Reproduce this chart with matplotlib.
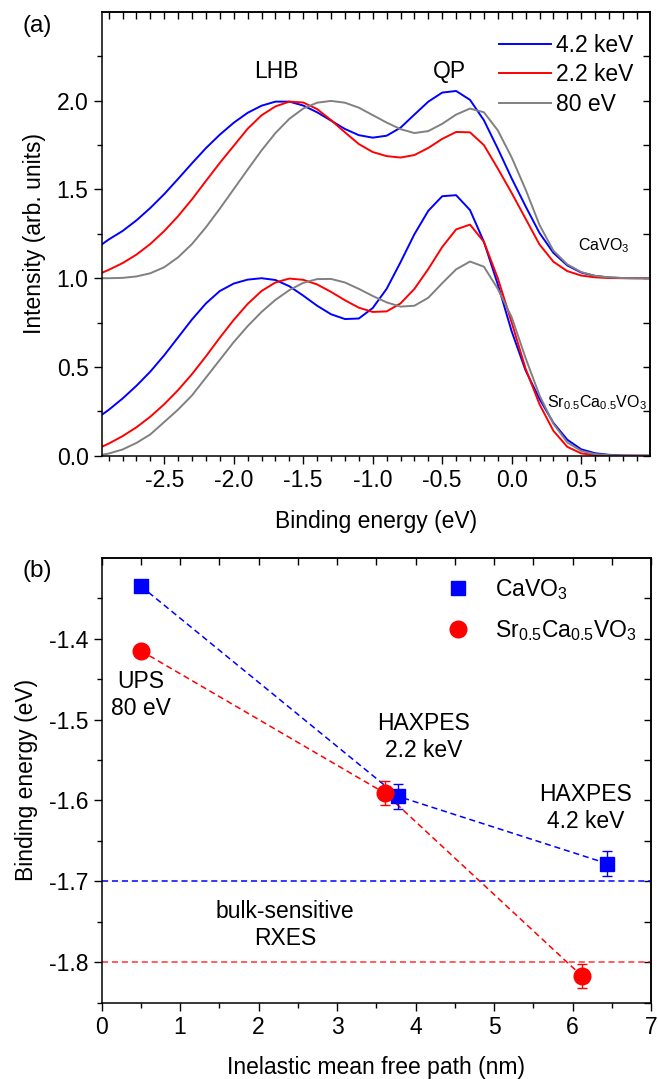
import matplotlib
matplotlib.use("Agg")
import matplotlib.pyplot as plt
from matplotlib.ticker import MultipleLocator, FixedLocator, NullFormatter

plt.rcParams['font.family'] = ['Liberation Sans', 'DejaVu Sans']
plt.rcParams['mathtext.fontset'] = 'custom'
plt.rcParams['mathtext.rm'] = 'Liberation Sans'
plt.rcParams['mathtext.it'] = 'Liberation Sans:italic'
plt.rcParams['mathtext.bf'] = 'Liberation Sans:bold'
plt.rcParams['axes.unicode_minus'] = False

# ---------------- data: panel (a) ----------------
x_be = [-2.95, -2.9, -2.8, -2.7, -2.6, -2.5, -2.4, -2.3, -2.2, -2.1, -2.0,
        -1.9, -1.8, -1.7, -1.6, -1.5, -1.4, -1.3, -1.2, -1.1, -1.0,
        -0.9, -0.8, -0.7, -0.6, -0.5, -0.4, -0.3, -0.2, -0.1, 0.0,
        0.1, 0.2, 0.3, 0.4, 0.5, 0.6, 0.7, 0.8, 0.9, 1.0]

cvo_4200 = [1.19, 1.218, 1.266, 1.326, 1.396, 1.474, 1.56, 1.648, 1.733, 1.809, 1.876,
            1.932, 1.972, 1.995, 1.995, 1.973, 1.935, 1.888, 1.841, 1.806, 1.792,
            1.803, 1.848, 1.922, 1.995, 2.046, 2.055, 2.005, 1.890, 1.730, 1.562,
            1.405, 1.255, 1.143, 1.072, 1.032, 1.013, 1.004, 1.001, 1.0, 1.0]
cvo_2200 = [1.03, 1.047, 1.085, 1.133, 1.193, 1.266, 1.350, 1.445, 1.548, 1.650, 1.746,
            1.842, 1.918, 1.968, 1.995, 1.990, 1.953, 1.891, 1.822, 1.756, 1.711,
            1.688, 1.680, 1.694, 1.734, 1.785, 1.824, 1.822, 1.750, 1.618, 1.480,
            1.335, 1.190, 1.093, 1.040, 1.015, 1.005, 1.001, 1.0, 1.0, 1.0]
cvo_80 = [1.0, 1.0, 1.002, 1.010, 1.028, 1.062, 1.118, 1.193, 1.287, 1.392, 1.502,
          1.612, 1.720, 1.818, 1.898, 1.956, 1.989, 1.999, 1.989, 1.961, 1.919,
          1.877, 1.840, 1.818, 1.829, 1.870, 1.922, 1.956, 1.935, 1.833, 1.680,
          1.500, 1.300, 1.155, 1.078, 1.035, 1.013, 1.005, 1.001, 1.0, 1.0]

scvo_4200 = [0.23, 0.258, 0.322, 0.394, 0.474, 0.566, 0.667, 0.768, 0.858, 0.928, 0.970,
             0.992, 1.0, 0.990, 0.955, 0.902, 0.845, 0.797, 0.770, 0.773, 0.832,
             0.940, 1.090, 1.248, 1.380, 1.462, 1.468, 1.384, 1.205, 0.965, 0.700,
             0.480, 0.320, 0.185, 0.090, 0.036, 0.014, 0.005, 0.001, 0.0, 0.0]
scvo_2200 = [0.05, 0.068, 0.11, 0.16, 0.22, 0.29, 0.37, 0.46, 0.56, 0.665, 0.765,
             0.855, 0.928, 0.976, 0.998, 0.991, 0.965, 0.923, 0.876, 0.834, 0.810,
             0.813, 0.858, 0.940, 1.052, 1.176, 1.275, 1.302, 1.205, 1.000, 0.750,
             0.490, 0.290, 0.140, 0.050, 0.013, 0.003, 0.0, 0.0, 0.0, 0.0]
scvo_80 = [0.005, 0.012, 0.035, 0.072, 0.12, 0.19, 0.26, 0.34, 0.44, 0.54, 0.64,
           0.73, 0.81, 0.878, 0.933, 0.974, 0.995, 0.996, 0.976, 0.940, 0.900,
           0.864, 0.840, 0.845, 0.890, 0.972, 1.050, 1.094, 1.065, 0.940, 0.780,
           0.550, 0.340, 0.180, 0.075, 0.027, 0.009, 0.003, 0.0, 0.0, 0.0]

energy_labels = ['4.2 keV', '2.2 keV', '80 eV']
xticks_a = [-2.5, -2.0, -1.5, -1.0, -0.5, 0.0, 0.5]
yticks_a = [0.0, 0.5, 1.0, 1.5, 2.0]

# ---------------- data: panel (b) ----------------
imfp_cvo = [0.5, 3.78, 6.44]
be_cvo = [-1.335, -1.595, -1.678]
err_cvo = [0.0, 0.015, 0.015]
imfp_scvo = [0.5, 3.61, 6.12]
be_scvo = [-1.415, -1.591, -1.817]
err_scvo = [0.0, 0.015, 0.015]
rxes_cvo = -1.70
rxes_scvo = -1.80
yticks_b = [-1.4, -1.5, -1.6, -1.7, -1.8]

BLUE = '#0000ff'
RED = '#ff0000'
GRAY = '#808080'
FS = 16.5

fig = plt.figure(figsize=(6.58, 10.79), dpi=100)
W, H = 658.0, 1079.0
ax1 = fig.add_axes([101.7 / W, 1 - 455.7 / H, (650 - 101.7) / W, (455.7 - 12) / H])
ax2 = fig.add_axes([101.5 / W, 1 - 1002.7 / H, (651 - 101.5) / W, (1002.7 - 557.7) / H])


def style_axes(ax, xmaj, xmin, ymaj, ymin, maj_len=6, min_len=3.5):
    for s in ax.spines.values():
        s.set_linewidth(1.1)
    ax.xaxis.set_major_locator(xmaj)
    ax.xaxis.set_minor_locator(xmin)
    ax.yaxis.set_major_locator(ymaj)
    ax.yaxis.set_minor_locator(ymin)
    ax.tick_params(which='both', direction='out', width=1.0, labelsize=FS,
                   top=False, right=False)
    ax.tick_params(which='major', length=maj_len)
    ax.tick_params(which='minor', length=min_len)
    secx = ax.secondary_xaxis('top')
    secx.xaxis.set_major_locator(xmaj)
    secx.xaxis.set_minor_locator(xmin)
    secx.xaxis.set_major_formatter(NullFormatter())
    secx.tick_params(which='both', direction='in', width=1.0, length=5)
    secx.spines['top'].set_linewidth(1.1)
    secy = ax.secondary_yaxis('right')
    secy.yaxis.set_major_locator(ymaj)
    secy.yaxis.set_minor_locator(ymin)
    secy.yaxis.set_major_formatter(NullFormatter())
    secy.tick_params(which='both', direction='in', width=1.0, length=5)
    secy.spines['right'].set_linewidth(1.1)


# ---------------- panel (a) ----------------
lw = 1.4
ax1.plot(x_be, cvo_4200, color=BLUE, lw=lw, label=energy_labels[0])
ax1.plot(x_be, cvo_2200, color=RED, lw=lw, label=energy_labels[1])
ax1.plot(x_be, cvo_80, color=GRAY, lw=lw, label=energy_labels[2])
ax1.plot(x_be, scvo_4200, color=BLUE, lw=lw)
ax1.plot(x_be, scvo_2200, color=RED, lw=lw)
ax1.plot(x_be, scvo_80, color=GRAY, lw=lw)
ax1.set_xlim(-2.95, 0.995)
ax1.set_ylim(0.0, 2.5)
minor_x_a = [round(-2.9 + 0.1 * i, 1) for i in range(39)]
style_axes(ax1, FixedLocator(xticks_a), FixedLocator(minor_x_a),
           FixedLocator(yticks_a), FixedLocator([0.25, 0.75, 1.25, 1.75, 2.25]))
ax1.set_xticklabels(['%.1f' % v for v in xticks_a])
ax1.set_yticklabels(['%.1f' % v for v in yticks_a])
ax1.set_xlabel('Binding energy (eV)', fontsize=FS, labelpad=13)
ax1.set_ylabel('Intensity (arb. units)', fontsize=FS, labelpad=8)
ax1.text(-1.69, 2.165, 'LHB', fontsize=FS, ha='center', va='center')
ax1.text(-0.45, 2.165, 'QP', fontsize=FS, ha='center', va='center')
ax1.text(0.48, 1.156, r'CaVO$_3$', fontsize=11.5, ha='left', va='baseline')
ax1.text(0.254, 0.275, r'Sr$_{0.5}$Ca$_{0.5}$VO$_3$', fontsize=11.5, ha='left', va='baseline')
ax1.legend(loc='upper left', bbox_to_anchor=(0.7246, 0.950), frameon=False,
           fontsize=FS, handlelength=2.25, handletextpad=0.25, labelspacing=0.27,
           borderpad=0, borderaxespad=0)
fig.text(37.5 / W, 1 - 26 / H, '(a)', fontsize=17.5, ha='center', va='center')

# ---------------- panel (b) ----------------
dash = (0, (4, 2.5))
ax2.axhline(rxes_cvo, color=BLUE, lw=1.1, ls=dash)
ax2.axhline(rxes_scvo, color=RED, lw=1.1, ls=dash, alpha=0.8)
ax2.plot(imfp_cvo, be_cvo, color=BLUE, lw=1.1, ls=dash)
ax2.plot(imfp_scvo, be_scvo, color=RED, lw=1.1, ls=dash)
ax2.errorbar(imfp_cvo, be_cvo, yerr=err_cvo, fmt='none', ecolor=BLUE,
             elinewidth=1.0, capsize=3.6, capthick=1.0)
ax2.errorbar(imfp_scvo, be_scvo, yerr=err_scvo, fmt='none', ecolor=RED,
             elinewidth=1.0, capsize=3.6, capthick=1.0)
ax2.plot(imfp_cvo, be_cvo, ls='none', marker='s', ms=10.5, color=BLUE,
         mec=BLUE, label=r'CaVO$_3$')
ax2.plot(imfp_scvo, be_scvo, ls='none', marker='o', ms=12, color=RED,
         mec=RED, label=r'Sr$_{0.5}$Ca$_{0.5}$VO$_3$')
ax2.set_xlim(0, 7)
ax2.set_ylim(-1.85, -1.30)
style_axes(ax2, MultipleLocator(1), MultipleLocator(0.5),
           FixedLocator(yticks_b), FixedLocator([-1.35, -1.45, -1.55, -1.65, -1.75, -1.85]),
           maj_len=6, min_len=3.5)
ax2.set_yticklabels(['%.1f' % v for v in yticks_b])
ax2.set_xlabel('Inelastic mean free path (nm)', fontsize=FS, labelpad=12)
ax2.set_ylabel('Binding energy (eV)', fontsize=FS, labelpad=8)
ax2.text(0.5, -1.47, 'UPS\n80 eV', fontsize=FS, ha='center', va='center', linespacing=1.2)
ax2.text(4.10, -1.5215, 'HAXPES\n2.2 keV', fontsize=FS, ha='center', va='center', linespacing=1.2)
ax2.text(6.17, -1.609, 'HAXPES\n4.2 keV', fontsize=FS, ha='center', va='center', linespacing=1.2)
ax2.text(2.34, -1.7536, 'bulk-sensitive\nRXES', fontsize=FS, ha='center', va='center', linespacing=1.2)
ax2.legend(loc='upper left', bbox_to_anchor=(0.628, 0.957), frameon=False,
           fontsize=FS, handlelength=1.0, handletextpad=1.1, labelspacing=0.72,
           borderpad=0, borderaxespad=0)
fig.text(37.5 / W, 1 - 570.8 / H, '(b)', fontsize=17.5, ha='center', va='center')

fig.savefig('out.png', dpi=100)
